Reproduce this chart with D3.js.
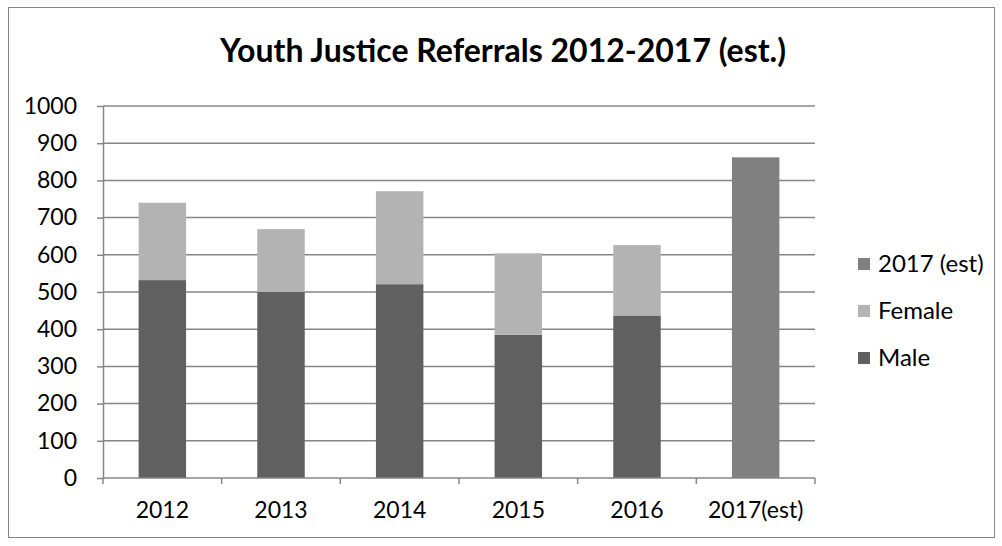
<!DOCTYPE html>
<html><head><meta charset="utf-8">
<script src="https://cdn.jsdelivr.net/npm/d3@7"></script>
<style>body{margin:0;background:#fff}svg{display:block}</style>
</head><body>
<svg id="c" width="1002" height="546"></svg>
<script>
const categories = ["2012","2013","2014","2015","2016","2017(est)"];
const male = [532, 500, 521, 385, 437, 0];
const female = [208, 169, 250, 219, 189, 0];
const est2017 = [0, 0, 0, 0, 0, 862];
const yTicks = [0,100,200,300,400,500,600,700,800,900,1000];
const seriesNames = ["Male","Female","2017 (est)"];
const colors = {"Male":"#606060","Female":"#b3b3b3","2017 (est)":"#808080"};

const font = "Lato, 'Open Sans', sans-serif";
const svg = d3.select("#c");
svg.append("rect").attr("x",8.5).attr("y",7.5).attr("width",986).attr("height",530)
  .attr("fill","#fff").attr("stroke","#868686").attr("stroke-width",1);

const L=103, R=815, T=106, B=478;
const x = d3.scaleBand().domain(categories).range([L,R]).paddingInner(0.6).paddingOuter(0.3);
const xb = d3.scaleBand().domain(categories).range([L,R]);
const y = d3.scaleLinear().domain([0,1000]).range([B,T]);

svg.append("text").attr("x",503).attr("y",62).attr("text-anchor","middle")
  .attr("font-family",font).attr("font-weight","bold").attr("font-size",32)
  .attr("fill","#000").text("Youth Justice Referrals 2012-2017 (est.)");

// gridlines
svg.append("g").selectAll("line").data(yTicks.filter(d=>d>0)).join("line")
  .attr("x1",L).attr("x2",R).attr("y1",d=>y(d)).attr("y2",d=>y(d))
  .attr("stroke","#868686").attr("stroke-width",1.5);

const rows = categories.map((c,i)=>({cat:c,"Male":male[i],"Female":female[i],"2017 (est)":est2017[i]}));
const stack = d3.stack().keys(seriesNames)(rows);
svg.append("g").selectAll("g").data(stack).join("g").attr("fill",d=>colors[d.key])
  .selectAll("rect").data(d=>d.filter(p=>p[1]-p[0]>0)).join("rect")
  .attr("x",d=>x(d.data.cat)).attr("width",x.bandwidth())
  .attr("y",d=>y(d[1])).attr("height",d=>y(d[0])-y(d[1]));

// y axis
const ya = svg.append("g").attr("transform",`translate(${L},0)`)
  .call(d3.axisLeft(y).tickValues(yTicks).tickFormat(d3.format("d")).tickSize(6).tickPadding(20).tickSizeOuter(0));
ya.select(".domain").attr("stroke","#868686").attr("stroke-width",1.5);
ya.selectAll(".tick line").attr("stroke","#868686").attr("stroke-width",1.5);
ya.selectAll("text").attr("font-family",font).attr("font-size",23).attr("fill","#000");

// x axis
const xa = svg.append("g").attr("transform",`translate(0,${B})`);
xa.append("line").attr("x1",L).attr("x2",R).attr("stroke","#868686").attr("stroke-width",1.5);
xa.selectAll(".tk").data(categories.concat(["end"])).join("line")
  .attr("x1",(d,i)=>i<categories.length?xb(d):R).attr("x2",(d,i)=>i<categories.length?xb(d):R)
  .attr("y1",0).attr("y2",6).attr("stroke","#868686").attr("stroke-width",1.5);
xa.selectAll("text").data(categories).join("text")
  .attr("x",d=>xb(d)+xb.bandwidth()/2).attr("y",40).attr("text-anchor","middle")
  .attr("font-family",font).attr("font-size",23).attr("fill","#000").text(d=>d);

// legend
const leg = svg.append("g").selectAll("g").data(seriesNames.slice().reverse()).join("g")
  .attr("transform",(d,i)=>`translate(858,${264+i*47})`);
leg.append("rect").attr("x",0).attr("y",-6).attr("width",12).attr("height",12).attr("fill",d=>colors[d]);
leg.append("text").attr("x",20).attr("y",8).attr("font-family",font).attr("font-size",24)
  .attr("fill","#000").text(d=>d);
</script>
</body></html>
